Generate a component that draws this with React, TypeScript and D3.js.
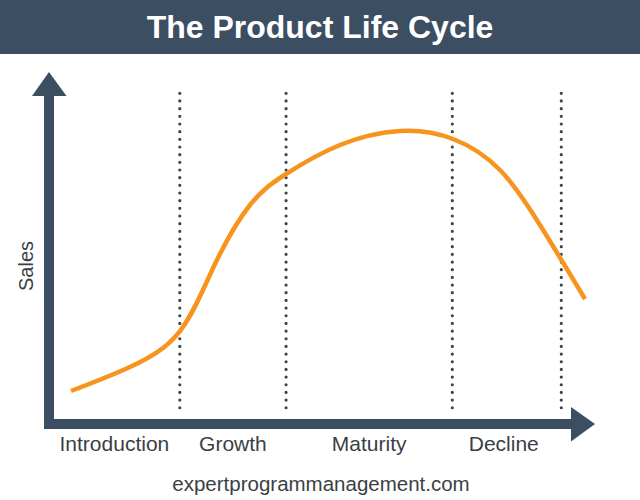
import React from "react";
import * as d3 from "d3";

const title = "The Product Life Cycle";
const yAxisLabel = "Sales";
const footer = "expertprogrammanagement.com";
const stages = ["Introduction", "Growth", "Maturity", "Decline"];
// stage boundaries on the time axis (0..100)
const stageBounds = [0, 24, 43.5, 74, 94];
// sales curve (time, sales) on 0..100 scales
const curveTime = [4.04, 14.86, 24.04, 30.46, 36.88, 43.49, 53.39, 64.4, 74.13, 82.75, 90.09, 98.35];
const curveSales = [9.43, 16.29, 26.57, 45.71, 62.57, 71.43, 79.71, 83.71, 81.43, 72.57, 56.86, 35.71];

const W = 640;
const H = 500;
const AXIS = "#3c4e62";
const ORANGE = "#f7941d";
const DOT = "#3b4550";
const TEXT = "#3a3f46";

export default function App() {
  const x = d3.scaleLinear().domain([0, 100]).range([49, 594]);
  const y = d3.scaleLinear().domain([0, 100]).range([424, 74]);
  const pts: [number, number][] = curveTime.map((t, i) => [t, curveSales[i]]);
  const line = d3
    .line<[number, number]>()
    .x((d) => x(d[0]))
    .y((d) => y(d[1]))
    .curve(d3.curveNatural);

  const x0 = x(0);
  const y0 = y(0);
  const half = 5;
  const vTip = y(100) - 2;
  const vBase = vTip + 24;
  const hTip = x(100) + 1;
  const hBase = hTip - 24;

  return (
    <svg
      width={W}
      height={H}
      style={{ position: "absolute", left: 0, top: 0, background: "#fff" }}
      fontFamily="'Liberation Sans', Arial, sans-serif"
    >
      <rect x={0} y={0} width={W} height={54} fill={AXIS} />
      <text x={W / 2} y={38} textAnchor="middle" fill="#fff" fontSize={32} fontWeight="bold">
        {title}
      </text>

      {stageBounds.slice(1).map((b, i) => (
        <line
          key={"d" + i}
          x1={x(b)}
          x2={x(b)}
          y1={93.3}
          y2={415}
          stroke={DOT}
          strokeWidth={3.2}
          strokeLinecap="round"
          strokeDasharray="0 7.67"
        />
      ))}

      <path d={line(pts) || ""} fill="none" stroke={ORANGE} strokeWidth={4.5} strokeLinecap="butt" />

      {/* axes */}
      <rect x={x0 - half} y={vBase} width={half * 2} height={y0 + half - vBase} fill={AXIS} />
      <polygon points={`${x0 - 17},${vBase} ${x0 + 17.5},${vBase} ${x0},${vTip}`} fill={AXIS} />
      <rect x={x0 - half} y={y0 - half} width={hBase - (x0 - half)} height={half * 2} fill={AXIS} />
      <polygon points={`${hBase},${y0 - 17} ${hBase},${y0 + 17.5} ${hTip},${y0}`} fill={AXIS} />

      {stages.map((s, i) => (
        <text
          key={s}
          x={(x(stageBounds[i]) + x(stageBounds[i + 1])) / 2 - (i === 3 ? 3 : 0)}
          y={451}
          textAnchor="middle"
          fontSize={21}
          fill={TEXT}
        >
          {s}
        </text>
      ))}

      <text
        transform={`translate(33,266) rotate(-90)`}
        textAnchor="middle"
        fontSize={20}
        fill={TEXT}
      >
        {yAxisLabel}
      </text>

      <text x={321} y={491} textAnchor="middle" fontSize={20.5} fill={TEXT}>
        {footer}
      </text>
    </svg>
  );
}
